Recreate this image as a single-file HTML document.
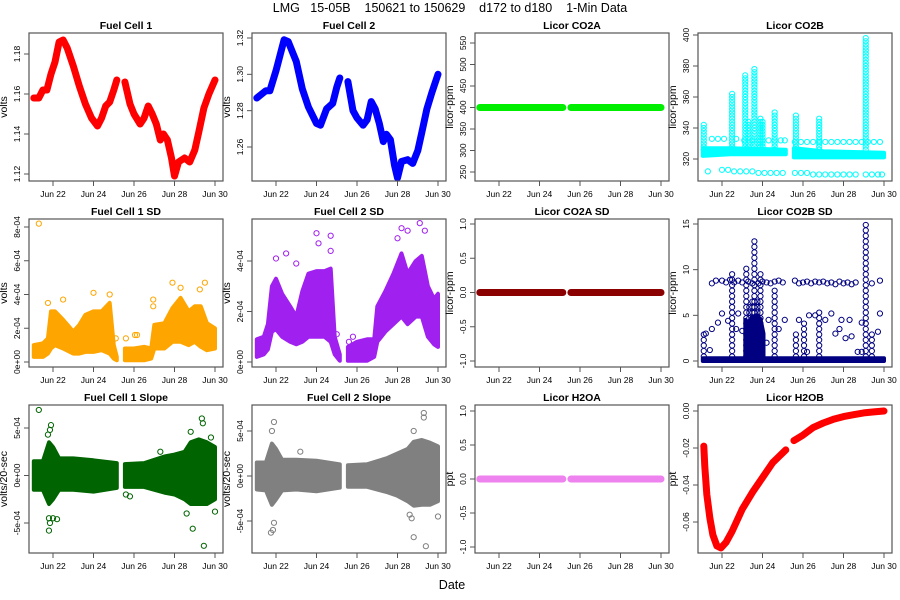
<!DOCTYPE html>
<html><head><meta charset="utf-8">
<style>
html,body{margin:0;padding:0;background:#fff;}
svg{display:block;font-family:"Liberation Sans",Arial,sans-serif;}
</style></head>
<body>
<svg id="chart" width="900" height="600" viewBox="0 0 900 600" xmlns="http://www.w3.org/2000/svg">
<text x="450" y="12" text-anchor="middle" font-size="12.5" style="white-space:pre" xml:space="preserve">LMG   15-05B    150621 to 150629    d172 to d180    1-Min Data</text>
<text x="452" y="589" text-anchor="middle" font-size="12.5">Date</text>
</svg>
<script>
// ---------- data ----------
const xTickDays = [22,24,26,28,30];
const xTickLabels = ["Jun 22","Jun 24","Jun 26","Jun 28","Jun 30"];

const fc1Days = [21.05,21.3,21.5,21.7,21.9,22.1,22.3,22.5,22.7,23.0,23.3,23.6,23.9,24.2,24.4,24.6,24.8,25.0,25.15];
const fc1Vals = [1.158,1.158,1.162,1.162,1.170,1.176,1.186,1.187,1.183,1.174,1.164,1.155,1.148,1.144,1.148,1.154,1.156,1.162,1.167];
const fc1Days2 = [25.55,25.8,26.0,26.3,26.5,26.7,26.9,27.1,27.3,27.45,27.65,27.85,28.0,28.2,28.5,28.75,29.0,29.2,29.45,29.7,30.0];
const fc1Vals2 = [1.166,1.155,1.150,1.145,1.148,1.154,1.150,1.145,1.137,1.140,1.137,1.128,1.119,1.126,1.128,1.126,1.132,1.141,1.153,1.160,1.167];

const fc2Days = [21.05,21.5,21.7,22.0,22.4,22.6,23.0,23.3,23.6,24.0,24.2,24.5,24.8,25.0,25.15];
const fc2Vals = [1.287,1.291,1.291,1.302,1.319,1.318,1.307,1.292,1.282,1.273,1.272,1.281,1.284,1.293,1.298];
const fc2Days2 = [25.55,25.8,26.0,26.3,26.5,26.7,26.9,27.1,27.3,27.45,27.65,27.85,28.0,28.2,28.5,28.75,29.0,29.2,29.45,29.7,30.0];
const fc2Vals2 = [1.296,1.280,1.276,1.272,1.275,1.285,1.281,1.273,1.263,1.267,1.264,1.250,1.243,1.252,1.253,1.251,1.258,1.268,1.281,1.290,1.300];

const flatDays = [21.05,25.15];
const flatDays2 = [25.55,30.0];
const co2aVals = [400,400];
const co2aSdVals = [0,0];
const h2oaVals = [0,0];

const h2obDays = [21.1,21.15,21.25,21.4,21.55,21.75,21.95,22.2,22.5,23.0,23.5,24.0,24.5,25.15];
const h2obVals = [-0.019,-0.030,-0.045,-0.058,-0.067,-0.073,-0.074,-0.071,-0.065,-0.053,-0.044,-0.036,-0.028,-0.021];
const h2obDays2 = [25.55,26.0,26.5,27.0,27.5,28.0,28.5,29.0,29.5,30.0];
const h2obVals2 = [-0.016,-0.013,-0.009,-0.0065,-0.0045,-0.003,-0.002,-0.001,-0.0005,0.0];

// bands (units 1e-4 volts)
const sd1Days = [21.05,21.5,21.75,21.9,22.1,22.5,23.0,23.3,23.6,24.0,24.4,24.8,25.0,25.15];
const sd1Lo = [0.3,0.3,0.5,0.8,1.0,0.8,0.5,0.5,0.6,0.6,0.7,0.5,0.2,0.1];
const sd1Hi = [1.0,1.1,1.4,3.0,3.0,2.5,1.8,2.2,2.8,3.0,3.0,3.5,1.0,0.3];
const sd1Days2 = [25.55,26.0,26.5,26.85,27.0,27.5,27.9,28.3,28.7,29.0,29.3,29.6,30.0];
const sd1Lo2 = [0.1,0.1,0.1,0.2,0.8,0.8,1.2,1.2,1.0,1.2,0.9,0.7,0.8];
const sd1Hi2 = [0.8,0.8,0.9,0.8,2.2,2.3,3.2,3.8,3.0,3.3,3.3,2.3,2.0];
const sd1OutDays = [21.3,21.75,22.5,24.0,24.8,26.05,26.15,26.95,26.95,27.9,28.3,29.25,29.5,25.6,25.1];
const sd1OutVals = [8.2,3.5,3.7,4.1,4.0,1.6,1.6,3.7,3.3,4.7,4.4,4.3,4.7,1.4,1.4];

const sd2Days = [21.05,21.4,21.6,21.8,22.0,22.3,22.7,23.0,23.3,23.6,24.0,24.4,24.7,24.9,25.15];
const sd2Lo = [0.2,0.3,0.5,1.2,1.3,1.0,0.8,0.7,0.8,1.0,1.0,1.0,0.8,0.3,0.05];
const sd2Hi = [0.9,1.0,1.5,3.0,3.3,2.7,2.2,1.8,2.8,3.5,3.6,3.6,3.7,1.0,0.3];
const sd2Days2 = [25.55,26.0,26.5,26.85,27.0,27.4,27.8,28.2,28.5,28.9,29.2,29.5,29.8,30.0];
const sd2Lo2 = [0.05,0.05,0.05,0.2,0.8,1.2,1.5,1.8,1.5,1.8,1.8,1.0,0.7,0.6];
const sd2Hi2 = [0.6,0.8,0.9,0.9,2.2,2.8,3.5,4.3,3.5,4.0,4.2,3.0,2.5,2.7];
const sd2OutDays = [22.0,22.5,23.0,24.0,24.1,24.7,24.7,25.0,25.6,25.8,28.2,28.5,29.1,29.35,28.0];
const sd2OutVals = [4.1,4.3,3.9,5.1,4.7,5.0,4.4,1.1,0.8,1.0,5.3,5.2,5.5,5.2,4.9];

const sl1Days = [21.05,21.5,21.8,22.0,22.3,23.0,24.0,25.15];
const sl1Lo = [-1.5,-1.5,-3.0,-2.5,-1.5,-1.5,-1.7,-1.3];
const sl1Hi = [1.5,1.5,3.5,3.0,1.8,1.8,1.6,1.3];
const sl1Days2 = [25.55,26.5,27.5,28.0,28.5,28.8,29.2,29.6,30.0];
const sl1Lo2 = [-1.2,-1.2,-1.8,-2.0,-2.5,-3.0,-3.0,-3.0,-2.5];
const sl1Hi2 = [1.2,1.3,2.0,2.2,2.5,3.5,3.8,3.5,3.0];
const sl1OutDays = [21.3,21.9,21.85,21.75,21.8,21.85,21.8,22.0,22.2,28.8,28.9,29.35,29.4,29.45,29.8,30.0,28.6,27.3,25.6,25.8];
const sl1OutVals = [6.9,5.3,4.8,4.3,-4.5,-5.0,-5.8,-4.5,-4.6,4.6,-5.6,6.0,5.5,-7.4,4.0,-3.8,-4.0,2.5,-2.0,-2.2];

const sl2Days = [21.05,21.5,21.8,22.0,22.3,23.0,24.0,25.15];
const sl2Lo = [-1.5,-1.6,-3.2,-2.6,-1.6,-1.5,-1.7,-1.3];
const sl2Hi = [1.5,1.5,3.6,3.0,1.8,1.8,1.7,1.3];
const sl2Days2 = [25.55,26.5,27.5,28.0,28.5,28.8,29.2,29.6,30.0];
const sl2Lo2 = [-1.2,-1.2,-1.8,-2.2,-2.8,-3.3,-3.2,-3.2,-2.8];
const sl2Hi2 = [1.2,1.3,2.0,2.5,3.0,3.8,4.0,3.7,3.3];
const sl2OutDays = [21.9,21.8,21.85,21.75,21.9,29.3,29.3,28.8,28.8,29.4,30.0,28.6,28.7,23.2];
const sl2OutVals = [6.0,5.0,-6.0,-6.3,-5.2,7.0,6.5,5.0,-6.8,-7.8,-4.5,-4.3,-4.7,2.7];

const co2bDays = [21.05,22.4,25.15];
const co2bLo = [322,323,323];
const co2bHi = [327,327,326];
const co2bDays2 = [25.55,27.0,30.0];
const co2bLo2 = [321,321,321];
const co2bHi2 = [327,325,324];
const co2bUpperRowDays = [21.5,21.8,22.1,22.7,23.1,23.5,23.9,24.3,24.6,24.9,25.1,25.6,25.9,26.2,26.5,26.8,27.1,27.4,27.7,28.0,28.3,28.6,28.9,29.2,29.5,29.8];
const co2bUpperRowVals = [333,333,333,333,332,332,332,332,332,332,332,331,331,331,331,331,331,331,331,331,331,331,331,331,331,331];
const co2bLowerRowDays = [21.3,22.0,22.3,22.6,22.9,23.2,23.5,23.8,24.1,24.4,24.7,25.0,25.6,25.9,26.2,26.5,26.8,27.1,27.4,27.7,28.0,28.3,28.6,29.1,29.4,29.7,29.9];
const co2bLowerRowVals = [312,313,313,312,312,312,312,311,311,311,311,311,311,311,311,310,310,310,310,310,310,310,310,310,310,310,310];
const co2bSpikeDays = [21.1,22.5,23.15,23.3,23.6,23.9,24.0,24.6,25.65,26.8,29.1];
const co2bSpikeHi = [343,363,375,345,378,347,345,350,348,347,398];

const sdbBandDays = [21.05,30.0];
const sdbBandLo = [0,0];
const sdbBandHi = [0.3,0.3];
const sdbRowDays = [21.5,21.7,22.0,22.2,22.4,22.6,22.8,23.0,23.3,23.5,23.8,24.0,24.2,24.4,24.6,24.8,25.0,25.6,25.8,26.0,26.2,26.4,26.6,26.8,27.0,27.2,27.4,27.6,27.8,28.0,28.2,28.4,28.6,29.4,29.8];
const sdbRowVals = [8.5,8.8,8.8,8.6,8.9,8.6,8.8,8.6,8.7,8.5,8.5,8.7,8.6,8.5,8.7,8.8,8.6,8.8,8.5,8.6,8.7,8.5,8.7,8.6,8.7,8.5,8.6,8.4,8.7,8.5,8.6,8.4,8.6,8.5,8.8];
const sdbSpikeDays = [21.1,22.5,23.2,23.35,23.5,23.6,23.75,23.9,24.6,25.65,26.05,26.8,29.1,29.4];
const sdbSpikeHi = [3.0,9.5,10.5,6.0,7.0,13.2,6.5,9.7,8.0,3.5,4.5,5.8,15.0,3.5];
const sdbScatterDays = [21.2,21.5,21.8,22.0,22.3,22.8,23.0,24.3,24.8,25.1,25.8,26.3,26.6,27.1,27.4,27.6,27.9,28.1,28.4,28.7,28.9,29.7,29.8,21.4,22.7,26.2,27.8,28.3,28.9,24.2];
const sdbScatterVals = [3.0,3.5,4.2,5.2,4.4,5.2,3.3,4.5,3.5,4.5,4.5,5.0,5.0,4.5,5.2,3.0,4.5,2.5,2.7,1.0,1.0,3.2,5.2,1.2,3.5,1.0,3.5,4.5,4.2,2.0];
const sdbClusterDays = [23.15,23.3,23.5,23.7,23.9,24.05];
const sdbClusterHi = [4.5,4.0,4.8,5.0,4.6,3.0];

// ---------- helpers ----------
const NS = "http://www.w3.org/2000/svg";
const svg = document.getElementById('chart');
const lefts = [29,252,475,698], tops = [33,219,405], PW = 194, PH = 148;
function mk(tag, attrs, parent){
  const e = document.createElementNS(NS, tag);
  for (const k in attrs) e.setAttribute(k, attrs[k]);
  (parent||svg).appendChild(e);
  return e;
}
function linScale(v0,p0,v1,p1){ return v => p0 + (v-v0)*(p1-p0)/(v1-v0); }

function makePanel(col,row,title,ylabel,yv0,yp0,yv1,yp1,yticks,ylabels,name){
  const L = lefts[col], T = tops[row];
  const g = mk('g',{});
  
  
  const xs = linScale(22, L+24, 30, L+186);
  const ys = linScale(yv0, yp0, yv1, yp1);
  const clipId = 'clip-'+name;
  const cp = mk('clipPath',{id:clipId},g);
  mk('rect',{x:L,y:T,width:PW,height:PH},cp);
  const plot = mk('g',{'clip-path':'url(#'+clipId+')'},g);
  
  
  const fr = mk('rect',{x:L,y:T,width:PW,height:PH,fill:'none',stroke:'#555','stroke-width':1.2},g);
  
  
  const tt = mk('text',{x:L+PW/2,y:T-4,'text-anchor':'middle','font-size':10.5,'font-weight':'bold'},g);
  tt.textContent = title;
  
  
  const xa = mk('g',{},g);
  
  
  mk('line',{x1:xs(xTickDays[0]),x2:xs(xTickDays[xTickDays.length-1]),y1:T+PH,y2:T+PH,stroke:'#555'},xa);
  xTickDays.forEach((d,i)=>{
    mk('line',{x1:xs(d),x2:xs(d),y1:T+PH,y2:T+PH+5,stroke:'#555'},xa);
    const t = mk('text',{x:xs(d),y:T+PH+16,'text-anchor':'middle','font-size':8.5},xa);
    t.textContent = xTickLabels[i];
    
    
  });
  const ya = mk('g',{},g);
  
  
  mk('line',{x1:L,x2:L,y1:ys(yticks[0]),y2:ys(yticks[yticks.length-1]),stroke:'#555'},ya);
  yticks.forEach((v,i)=>{
    const y = ys(v);
    mk('line',{x1:L-5,x2:L,y1:y,y2:y,stroke:'#555'},ya);
    const t = mk('text',{x:L-9,y:y,'text-anchor':'middle','font-size':8.5,transform:'rotate(-90 '+(L-9)+' '+y+')'},ya);
    t.textContent = ylabels[i];
    
    
  });
  const yl = mk('text',{x:L-22,y:T+PH/2,'text-anchor':'middle','font-size':10.5,transform:'rotate(-90 '+(L-22)+' '+(T+PH/2)+')'},g);
  yl.textContent = ylabel;
  
  
  return {plot, xs, ys};
}
function thickLine(p, days, vals, color, w, name){
  const pts = days.map((d,i)=>p.xs(d).toFixed(1)+','+p.ys(vals[i]).toFixed(1)).join(' ');
  const e = mk('polyline',{points:pts,fill:'none',stroke:color,'stroke-width':w,'stroke-linecap':'round','stroke-linejoin':'round'},p.plot);
  
  
}
function band(p, days, lo, hi, color, k, name){
  const up = days.map((d,i)=>p.xs(d).toFixed(1)+','+p.ys(hi[i]*k).toFixed(1));
  const dn = days.map((d,i)=>p.xs(d).toFixed(1)+','+p.ys(lo[i]*k).toFixed(1)).reverse();
  const e = mk('polygon',{points:up.concat(dn).join(' '),fill:color,stroke:color,'stroke-width':4,'stroke-linejoin':'round'},p.plot);
  
  
}
function circles(p, days, vals, color, k, name){
  days.forEach((d,i)=>{
    const c = mk('circle',{cx:p.xs(d),cy:p.ys(vals[i]*k),r:2.6,fill:'none',stroke:color,'stroke-width':1},p.plot);
    
    
  });
}
function spikes(p, days, base, his, color, step, name){
  days.forEach((d,i)=>{
    for (let v = base; v <= his[i]; v += step){
      const c = mk('circle',{cx:p.xs(d),cy:p.ys(v),r:2.6,fill:'none',stroke:color,'stroke-width':1},p.plot);
      
      
    }
  });
}

// ---------- panels ----------
let p;
p = makePanel(0,0,'Fuel Cell 1','volts',1.12,174,1.18,54,[1.12,1.14,1.16,1.18],['1.12','1.14','1.16','1.18'],'fuel-cell-1');
thickLine(p,fc1Days,fc1Vals,'#ff0000',7,'fc1-series');
thickLine(p,fc1Days2,fc1Vals2,'#ff0000',7,'fc1-series');

p = makePanel(1,0,'Fuel Cell 2','volts',1.26,147,1.32,38,[1.26,1.28,1.30,1.32],['1.26','1.28','1.30','1.32'],'fuel-cell-2');
thickLine(p,fc2Days,fc2Vals,'#0000ff',7,'fc2-series');
thickLine(p,fc2Days2,fc2Vals2,'#0000ff',7,'fc2-series');

p = makePanel(2,0,'Licor CO2A','licor-ppm',250,172,550,43,[250,300,350,400,450,500,550],['250','300','350','400','450','500','550'],'licor-co2a');
thickLine(p,flatDays,co2aVals,'#00ee00',7,'co2a-series');
thickLine(p,flatDays2,co2aVals,'#00ee00',7,'co2a-series');

p = makePanel(3,0,'Licor CO2B','licor-ppm',320,159,400,35,[320,340,360,380,400],['320','340','360','380','400'],'licor-co2b');
band(p,co2bDays,co2bLo,co2bHi,'#00ffff',1,'co2b-band');
band(p,co2bDays2,co2bLo2,co2bHi2,'#00ffff',1,'co2b-band');
circles(p,co2bUpperRowDays,co2bUpperRowVals,'#00ffff',1,'co2b-point');
circles(p,co2bLowerRowDays,co2bLowerRowVals,'#00ffff',1,'co2b-point');
spikes(p,co2bSpikeDays,326,co2bSpikeHi,'#00ffff',2,'co2b-spike-point');

p = makePanel(0,1,'Fuel Cell 1 SD','volts',0,362,8e-4,227,[0,2e-4,4e-4,6e-4,8e-4],['0e+00','2e-04','4e-04','6e-04','8e-04'],'fuel-cell-1-sd');
band(p,sd1Days,sd1Lo,sd1Hi,'#ffa500',1e-4,'fc1-sd-band');
band(p,sd1Days2,sd1Lo2,sd1Hi2,'#ffa500',1e-4,'fc1-sd-band');
circles(p,sd1OutDays,sd1OutVals,'#ffa500',1e-4,'fc1-sd-point');

p = makePanel(1,1,'Fuel Cell 2 SD','volts',0,362,4e-4,261,[0,2e-4,4e-4],['0e+00','2e-04','4e-04'],'fuel-cell-2-sd');
band(p,sd2Days,sd2Lo,sd2Hi,'#a020f0',1e-4,'fc2-sd-band');
band(p,sd2Days2,sd2Lo2,sd2Hi2,'#a020f0',1e-4,'fc2-sd-band');
circles(p,sd2OutDays,sd2OutVals,'#a020f0',1e-4,'fc2-sd-point');

p = makePanel(2,1,'Licor CO2A SD','licor-ppm',-1,361,1,224,[-1,-0.5,0,0.5,1],['-1.0','-0.5','0.0','0.5','1.0'],'licor-co2a-sd');
thickLine(p,flatDays,co2aSdVals,'#8b0000',7,'co2a-sd-series');
thickLine(p,flatDays2,co2aSdVals,'#8b0000',7,'co2a-sd-series');

p = makePanel(3,1,'Licor CO2B SD','licor-ppm',0,361,15,224,[0,5,10,15],['0','5','10','15'],'licor-co2b-sd');
band(p,sdbBandDays,sdbBandLo,sdbBandHi,'#000080',1,'co2b-sd-band');
band(p,sdbClusterDays,sdbClusterDays.map(()=>0),sdbClusterHi,'#000080',1,'co2b-sd-cluster');
circles(p,sdbRowDays,sdbRowVals,'#000080',1,'co2b-sd-point');
circles(p,sdbScatterDays,sdbScatterVals,'#000080',1,'co2b-sd-point');
spikes(p,sdbSpikeDays,0.5,sdbSpikeHi,'#000080',0.6,'co2b-sd-spike-point');

p = makePanel(0,2,'Fuel Cell 1 Slope','volts/20-sec',-5e-4,523,5e-4,428,[-5e-4,0,5e-4],['-5e-04','0e+00','5e-04'],'fuel-cell-1-slope');
band(p,sl1Days,sl1Lo,sl1Hi,'#006400',1e-4,'fc1-slope-band');
band(p,sl1Days2,sl1Lo2,sl1Hi2,'#006400',1e-4,'fc1-slope-band');
circles(p,sl1OutDays,sl1OutVals,'#006400',1e-4,'fc1-slope-point');

p = makePanel(1,2,'Fuel Cell 2 Slope','volts/20-sec',-5e-4,521,5e-4,431,[-5e-4,0,5e-4],['-5e-04','0e+00','5e-04'],'fuel-cell-2-slope');
band(p,sl2Days,sl2Lo,sl2Hi,'#808080',1e-4,'fc2-slope-band');
band(p,sl2Days2,sl2Lo2,sl2Hi2,'#808080',1e-4,'fc2-slope-band');
circles(p,sl2OutDays,sl2OutVals,'#808080',1e-4,'fc2-slope-point');

p = makePanel(2,2,'Licor H2OA','ppt',-1,547,1,411,[-1,-0.5,0,0.5,1],['-1.0','-0.5','0.0','0.5','1.0'],'licor-h2oa');
thickLine(p,flatDays,h2oaVals,'#ee82ee',7,'h2oa-series');
thickLine(p,flatDays2,h2oaVals,'#ee82ee',7,'h2oa-series');

p = makePanel(3,2,'Licor H2OB','ppt',-0.06,522,0,411,[-0.06,-0.04,-0.02,0],['-0.06','-0.04','-0.02','0.00'],'licor-h2ob');
thickLine(p,h2obDays,h2obVals,'#ff0000',7,'h2ob-series');
thickLine(p,h2obDays2,h2obVals2,'#ff0000',7,'h2ob-series');
</script>
</body></html>
